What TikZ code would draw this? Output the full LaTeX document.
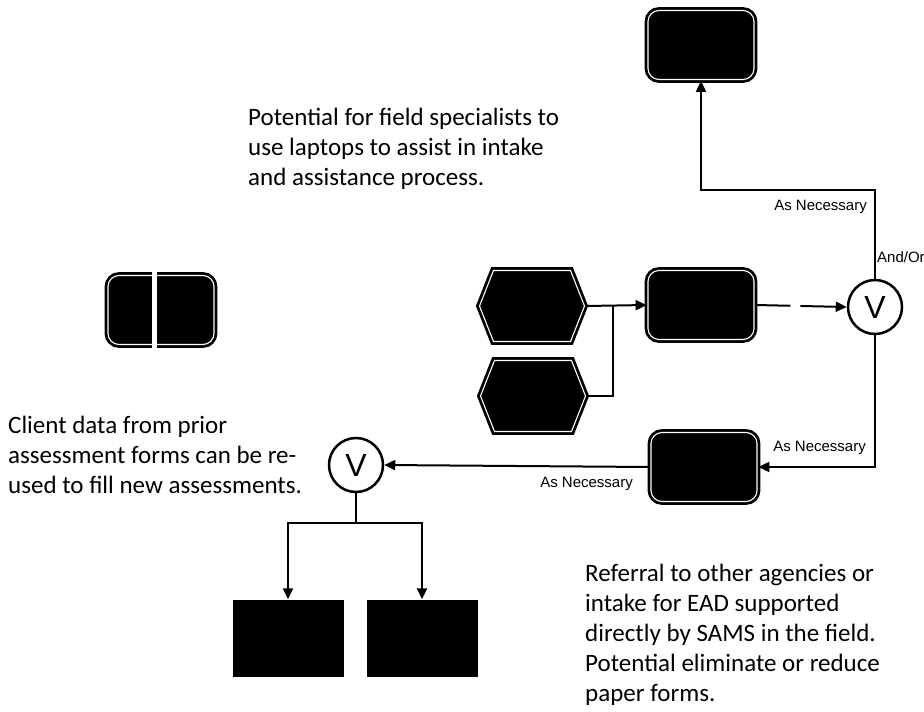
\documentclass[tikz,border=0pt]{standalone}
\usepackage{fontspec}
\setmainfont{Carlito}
\newfontfamily\tagfont{Liberation Sans}
\usetikzlibrary{arrows.meta,positioning,shapes.symbols}

\begin{document}
\begin{tikzpicture}[x=1pt,y=-1pt]
  \tikzset{
    box/.style={rectangle, rounded corners=11pt, minimum width=106pt, minimum height=69pt,
      inner sep=0pt, fill=black, draw=black, line width=2.8pt, double=white, double distance=1.1pt},
    hexbox/.style={box, sharp corners, signal, signal to=east and west, signal pointer angle=137,
      minimum width=105pt, minimum height=71pt},
    sheet/.style={rectangle, fill=black, minimum width=111pt, minimum height=77pt, inner sep=0pt},
    orbox/.style={circle, draw=black, line width=2.5pt, fill=white, minimum size=54pt, inner sep=0pt,
      font=\tagfont\fontsize{32}{32}\selectfont},
    wire/.style={draw=black, line width=2pt},
    flow/.style={wire, -{Triangle[length=11pt,width=10pt]}},
    note/.style={anchor=west, align=left, inner sep=0pt, font=\fontsize{25}{30}\selectfont},
    tag/.style={inner sep=0pt, font=\tagfont\fontsize{15}{15}\selectfont}
  }
  \useasboundingbox (0,0) rectangle (924,712);

  % boxes
  \node[box] (top) at (701,45) {};
  \node[box] (mid) at (701,305) {};
  \node[box] (low) at (704,467) {};
  \node[box] (prior) at (161,310) {};
  \draw[white, line width=5pt] ([xshift=-7pt,yshift=6pt]prior.north) -- ([xshift=-7pt,yshift=-6pt]prior.south);
  \node[hexbox] (hex1) at (532,306) {};
  \node[hexbox] (hex2) at (533,396) {};
  \node[orbox] (v1) at (875,307) {V};
  \node[orbox] (v2) at (356,465) {V};
  \node[sheet] (out1) at (288,638) {};
  \node[sheet] (out2) at (422,638) {};

  % connectors
  \coordinate (upbend) at (875,190);
  \coordinate (merge) at (613,306);
  \coordinate (split) at (356,523);
  \draw[flow] (v1.north) -- (upbend) -| (top.south);
  \draw[flow] (hex1.east) -- (mid.west);
  \draw[wire] (hex2.east) -| (merge);
  \draw[flow, dash pattern=on 35pt off 10pt on 120pt] (mid.east) -- (v1.west);
  \draw[flow] (v1.south) |- (low.east);
  \draw[flow] (low.west) -- (v2.east);
  \draw[wire] (v2.south) -- (split);
  \draw[flow] (split) -| (out1.north);
  \draw[flow] (split) -| (out2.north);

  % labels
  \node[tag, anchor=east] (tagup) at (867,207) {As Necessary};
  \node[tag, anchor=west] (andor) at (877,257) {And/Or};
  \node[tag, anchor=east] (tagright) at (866,448) {As Necessary};
  \node[tag, anchor=east] (tagleft) at (633,484) {As Necessary};

  % notes
  \node[note] (laptops) at (248,149) {Potential for field specialists to\\use laptops to assist in intake\\and assistance process.};
  \node[note] (reuse) at (8,455) {Client data from prior\\assessment forms can be re-\\used to fill new assessments.};
  \node[note] (referral) at (585,635) {Referral to other agencies or\\intake for EAD supported\\directly by SAMS in the field.\\Potential eliminate or reduce\\paper forms.};
\end{tikzpicture}
\end{document}
